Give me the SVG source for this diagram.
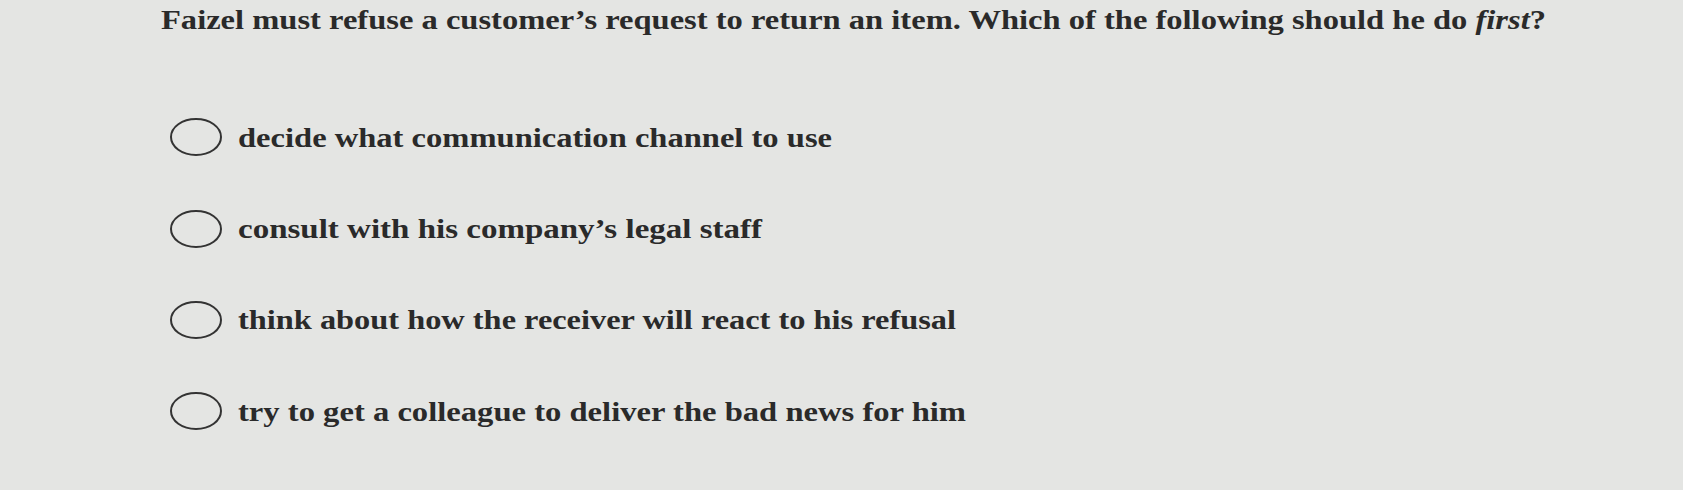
<svg xmlns="http://www.w3.org/2000/svg" width="1683" height="490" viewBox="0 0 1683 490">
<style>
text{font-family:"Liberation Serif","Times New Roman",serif;font-weight:bold;fill:#2a2a2a}
.q{font-size:27px}
.o{font-size:28px}
ellipse{fill:none;stroke:#333;stroke-width:2}
</style>
<rect width="1683" height="490" fill="#e4e5e3"/>
<text class="q" x="161" y="29" textLength="1385" lengthAdjust="spacingAndGlyphs">Faizel must refuse a customer’s request to return an item. Which of the following should he do <tspan font-style="italic">first</tspan>?</text>
<g id="opt1"><ellipse cx="196" cy="137" rx="25" ry="18"/><text class="o" x="238" y="147" textLength="594" lengthAdjust="spacingAndGlyphs">decide what communication channel to use</text></g>
<g id="opt2"><ellipse cx="196" cy="229" rx="25" ry="18"/><text class="o" x="238" y="238" textLength="524" lengthAdjust="spacingAndGlyphs">consult with his company’s legal staff</text></g>
<g id="opt3"><ellipse cx="196" cy="320" rx="25" ry="18"/><text class="o" x="238" y="329" textLength="718" lengthAdjust="spacingAndGlyphs">think about how the receiver will react to his refusal</text></g>
<g id="opt4"><ellipse cx="196" cy="411" rx="25" ry="18"/><text class="o" x="238" y="421" textLength="728" lengthAdjust="spacingAndGlyphs">try to get a colleague to deliver the bad news for him</text></g>
<g id="connectors"/>
</svg>
